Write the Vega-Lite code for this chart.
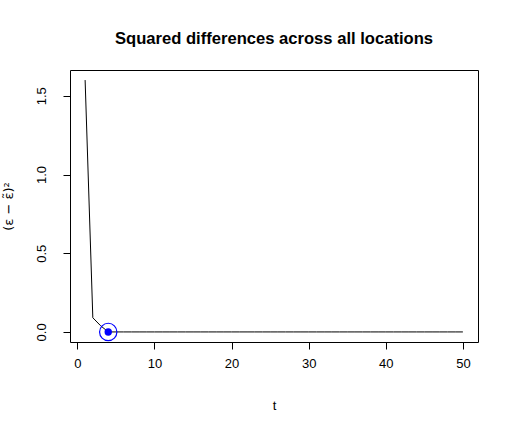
{
  "$schema": "https://vega.github.io/schema/vega-lite/v6.json",
  "width": 408,
  "height": 272,
  "autosize": {"type": "none"},
  "padding": {"left": 70, "top": 70, "right": 37, "bottom": 88},
  "background": "white",
  "title": {
    "text": "Squared differences across all locations",
    "font": "Liberation Sans",
    "fontSize": 16.6,
    "fontWeight": "bold",
    "color": "black",
    "anchor": "middle",
    "offset": 22
  },
  "data": {
    "values": [
      {"t": 1, "d": 1.6, "best": false},
      {"t": 2, "d": 0.09, "best": false},
      {"t": 3, "d": 0.04, "best": false},
      {"t": 4, "d": 0.0, "best": true},
      {"t": 5, "d": 0, "best": false},
      {"t": 6, "d": 0, "best": false},
      {"t": 7, "d": 0, "best": false},
      {"t": 8, "d": 0, "best": false},
      {"t": 9, "d": 0, "best": false},
      {"t": 10, "d": 0, "best": false},
      {"t": 11, "d": 0, "best": false},
      {"t": 12, "d": 0, "best": false},
      {"t": 13, "d": 0, "best": false},
      {"t": 14, "d": 0, "best": false},
      {"t": 15, "d": 0, "best": false},
      {"t": 16, "d": 0, "best": false},
      {"t": 17, "d": 0, "best": false},
      {"t": 18, "d": 0, "best": false},
      {"t": 19, "d": 0, "best": false},
      {"t": 20, "d": 0, "best": false},
      {"t": 21, "d": 0, "best": false},
      {"t": 22, "d": 0, "best": false},
      {"t": 23, "d": 0, "best": false},
      {"t": 24, "d": 0, "best": false},
      {"t": 25, "d": 0, "best": false},
      {"t": 26, "d": 0, "best": false},
      {"t": 27, "d": 0, "best": false},
      {"t": 28, "d": 0, "best": false},
      {"t": 29, "d": 0, "best": false},
      {"t": 30, "d": 0, "best": false},
      {"t": 31, "d": 0, "best": false},
      {"t": 32, "d": 0, "best": false},
      {"t": 33, "d": 0, "best": false},
      {"t": 34, "d": 0, "best": false},
      {"t": 35, "d": 0, "best": false},
      {"t": 36, "d": 0, "best": false},
      {"t": 37, "d": 0, "best": false},
      {"t": 38, "d": 0, "best": false},
      {"t": 39, "d": 0, "best": false},
      {"t": 40, "d": 0, "best": false},
      {"t": 41, "d": 0, "best": false},
      {"t": 42, "d": 0, "best": false},
      {"t": 43, "d": 0, "best": false},
      {"t": 44, "d": 0, "best": false},
      {"t": 45, "d": 0, "best": false},
      {"t": 46, "d": 0, "best": false},
      {"t": 47, "d": 0, "best": false},
      {"t": 48, "d": 0, "best": false},
      {"t": 49, "d": 0, "best": false},
      {"t": 50, "d": 0, "best": false}
    ]
  },
  "encoding": {
    "x": {
      "field": "t",
      "type": "quantitative",
      "scale": {"domain": [-0.96, 51.96], "nice": false, "zero": false},
      "axis": {
        "title": "t",
        "values": [0, 10, 20, 30, 40, 50],
        "labelPadding": 8,
        "titlePadding": 29
      }
    },
    "y": {
      "field": "d",
      "type": "quantitative",
      "scale": {"domain": [-0.064, 1.664], "nice": false, "zero": false},
      "axis": {
        "title": "(ε − ε̃)²",
        "titleFont": "DejaVu Sans",
        "titleFontSize": 13,
        "values": [0, 0.5, 1, 1.5],
        "format": ".1f",
        "labelAngle": -90,
        "labelAlign": "center",
        "labelBaseline": "bottom",
        "labelPadding": 15,
        "titlePadding": 20
      }
    }
  },
  "layer": [
    {
      "mark": {"type": "line", "color": "black", "strokeWidth": 1}
    },
    {
      "transform": [{"filter": "datum.best"}],
      "mark": {"type": "point", "shape": "circle", "filled": false, "stroke": "#0000ff", "strokeWidth": 1.2, "size": 300, "opacity": 1}
    },
    {
      "transform": [{"filter": "datum.best"}],
      "mark": {"type": "point", "shape": "circle", "filled": true, "fill": "#0000ff", "size": 55, "opacity": 1}
    }
  ],
  "config": {
    "view": {"stroke": "black", "strokeWidth": 1},
    "axis": {
      "domain": false,
      "grid": false,
      "ticks": true,
      "tickColor": "black",
      "tickSize": 7,
      "labelFont": "Liberation Sans",
      "labelFontSize": 13,
      "labelColor": "black",
      "titleFont": "Liberation Sans",
      "titleFontSize": 13,
      "titleFontWeight": "normal",
      "titleColor": "black"
    }
  }
}
